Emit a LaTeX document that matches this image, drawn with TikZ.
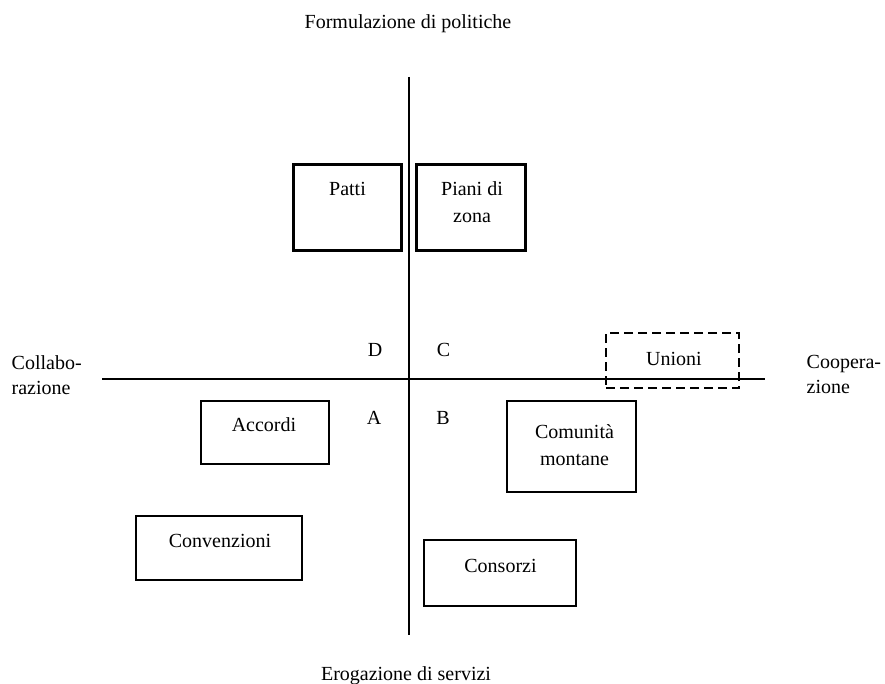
\documentclass[tikz,border=0pt]{standalone}
\usepackage{fontspec}
\setmainfont{Liberation Serif}

\begin{document}
\begin{tikzpicture}[x=1pt,y=-1pt]
\tikzstyle{box}=[draw,line width=2.4pt,inner sep=0pt];
\tikzstyle{heavybox}=[box,line width=3pt];
\tikzstyle{dashbox}=[box,dash pattern=on 9pt off 5pt];
\tikzstyle{txt}=[font=\fontsize{20}{27}\selectfont,inner sep=0pt];
\tikzstyle{side}=[txt,font=\fontsize{20}{25}\selectfont,align=left,anchor=west];
\tikzstyle{axis}=[line width=2pt];
\useasboundingbox (0,0) rectangle (885,684);

% axes
\coordinate (top) at (408.5,77);
\coordinate (bottom) at (408.5,635);
\coordinate (left) at (102,379);
\coordinate (right) at (765,379);
\draw [axis] (top) -- (bottom);
\draw [axis] (left) -- (right);

\node [txt,anchor=base] (pol) at (408,28.5) {Formulazione di politiche};
\node [txt,anchor=base] (serv) at (406,680) {Erogazione di servizi};
\node [side] (coll) at (11.5,375.5) {Collabo-\\razione};
\node [side] (coop) at (806.5,374.5) {Coopera-\\zione};

\node [txt,anchor=base] (qd) at (375,356) {D};
\node [txt,anchor=base] (qc) at (443.5,356) {C};
\node [txt,anchor=base] (qa) at (374,424) {A};
\node [txt,anchor=base] (qb) at (443,424) {B};

% boxes
\node [heavybox,minimum width=108pt,minimum height=86pt] (patti) at (347.5,207.5) {};
\node [txt,anchor=base] (patti-t) at (347.5,196) {Patti};
\node [heavybox,minimum width=109pt,minimum height=86pt] (piani) at (471,207.5) {};
\node [txt,align=center] (piani-t) at (472,202.5) {Piani di\\zona};

\node [dashbox,minimum width=133pt,minimum height=55pt] (unioni) at (672.5,360.5) {};
\node [txt,anchor=base] (unioni-t) at (674,365) {Unioni};

\node [box,minimum width=128pt,minimum height=63pt] (accordi) at (265,432.5) {};
\node [txt,anchor=base] (accordi-t) at (264,431) {Accordi};

\node [box,minimum width=129pt,minimum height=91pt] (comunita) at (571.5,446.5) {};
\node [txt,align=center] (comunita-t) at (574.5,445) {Comunità\\montane};

\node [box,minimum width=166pt,minimum height=64pt] (conv) at (219,548) {};
\node [txt,anchor=base] (conv-t) at (220,547.5) {Convenzioni};

\node [box,minimum width=152pt,minimum height=66pt] (consorzi) at (500,573) {};
\node [txt,anchor=base] (consorzi-t) at (500.5,572.5) {Consorzi};
\end{tikzpicture}
\end{document}
